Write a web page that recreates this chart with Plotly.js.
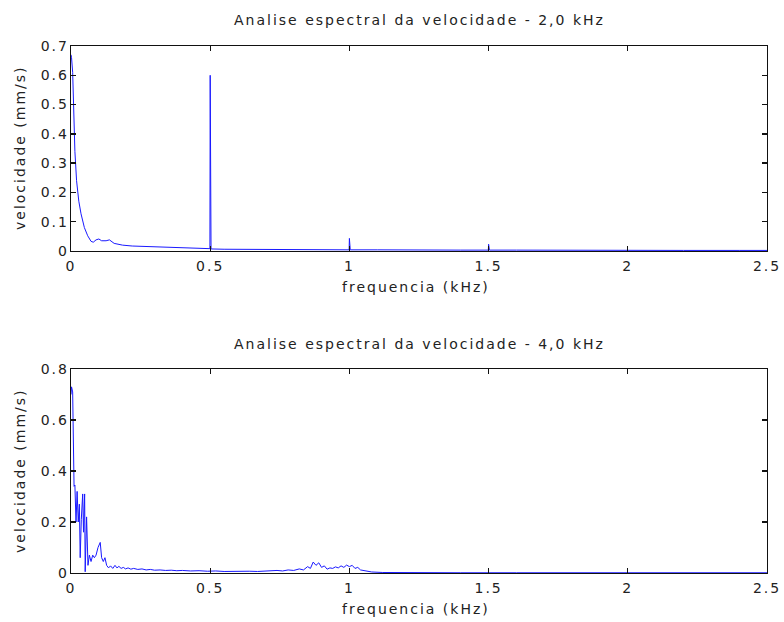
<!DOCTYPE html>
<html>
<head>
<meta charset="utf-8">
<script src="https://cdn.plot.ly/plotly-3.0.1.min.js"></script>
<style>
  html, body { margin: 0; padding: 0; background: #fff; }
  #plot { width: 784px; height: 622px; }
  /* wide, spaced lettering for all chart text */
  #plot svg text { letter-spacing: 2px; }
</style>
</head>
<body>
<div id="plot"></div>
<script>
// Espectro de velocidade - excitação de 2,0 kHz
const freq2k = [0, 0.002, 0.006, 0.010, 0.014, 0.020, 0.028, 0.036, 0.048, 0.060,
  0.072, 0.080, 0.090, 0.100, 0.110, 0.126, 0.138, 0.155, 0.185, 0.220,
  0.250, 0.300, 0.350, 0.400, 0.450, 0.498, 0.499, 0.500, 0.501, 0.503,
  0.550, 0.600, 0.700, 0.800, 0.900, 0.998, 0.999, 1.000, 1.001, 1.003,
  1.100, 1.200, 1.300, 1.400, 1.498, 1.499, 1.500, 1.501, 1.503, 1.600,
  1.800, 2.000, 2.200, 2.400, 2.500];
const vel2k = [0.67, 0.66, 0.61, 0.46, 0.34, 0.24, 0.17, 0.127, 0.08, 0.052,
  0.033, 0.030, 0.038, 0.041, 0.035, 0.035, 0.038, 0.026, 0.020, 0.017,
  0.016, 0.013, 0.011, 0.010, 0.009, 0.008, 0.008, 0.60, 0.008, 0.007,
  0.006, 0.006, 0.005, 0.005, 0.004, 0.004, 0.004, 0.043, 0.004, 0.004,
  0.004, 0.003, 0.003, 0.003, 0.003, 0.003, 0.023, 0.003, 0.003, 0.003,
  0.002, 0.002, 0.002, 0.002, 0.002];

// Espectro de velocidade - excitação de 4,0 kHz
const freq4k = [0, 0.002, 0.006, 0.008, 0.011, 0.014, 0.018, 0.022, 0.026, 0.030,
  0.033, 0.037, 0.042, 0.045, 0.049, 0.051, 0.056, 0.061, 0.066, 0.072,
  0.078, 0.084, 0.090, 0.097, 0.105, 0.110, 0.116, 0.122, 0.128, 0.135,
  0.142, 0.150, 0.158, 0.165, 0.172, 0.180, 0.188, 0.196, 0.205, 0.215,
  0.225, 0.24, 0.255, 0.27, 0.285, 0.30, 0.32, 0.34, 0.36, 0.38,
  0.40, 0.43, 0.46, 0.49, 0.52, 0.55, 0.58, 0.61, 0.64, 0.67,
  0.70, 0.72, 0.74, 0.76, 0.78, 0.80, 0.82, 0.835, 0.85, 0.86,
  0.87, 0.88, 0.89, 0.90, 0.91, 0.92, 0.93, 0.94, 0.95, 0.96,
  0.97, 0.98, 0.99, 1.00, 1.01, 1.02, 1.03, 1.04, 1.06, 1.08,
  1.12, 1.2, 1.4, 1.6, 1.8, 2.0, 2.2, 2.5];
const vel4k = [0.70, 0.73, 0.71, 0.55, 0.34, 0.345, 0.20, 0.32, 0.20, 0.27,
  0.06, 0.21, 0.31, 0.16, 0.31, 0.005, 0.22, 0.03, 0.07, 0.045,
  0.07, 0.06, 0.07, 0.10, 0.12, 0.06, 0.045, 0.06, 0.03, 0.02,
  0.028, 0.018, 0.03, 0.02, 0.026, 0.018, 0.022, 0.016, 0.02, 0.015,
  0.018, 0.014, 0.016, 0.012, 0.014, 0.011, 0.012, 0.010, 0.011, 0.009,
  0.010, 0.008, 0.009, 0.007, 0.008, 0.006, 0.007, 0.006, 0.007, 0.006,
  0.008, 0.007, 0.010, 0.008, 0.012, 0.010, 0.016, 0.012, 0.025, 0.018,
  0.043, 0.030, 0.040, 0.022, 0.028, 0.015, 0.020, 0.018, 0.024, 0.020,
  0.028, 0.022, 0.031, 0.025, 0.030, 0.018, 0.022, 0.012, 0.008, 0.004,
  0.002, 0.001, 0.001, 0.001, 0.001, 0.001, 0.001, 0.001];

const xTicks = [0, 0.5, 1, 1.5, 2, 2.5];
const xTickText = ['0', '0.5', '1', '1.5', '2', '2.5'];
const yTicks2k = [0, 0.1, 0.2, 0.3, 0.4, 0.5, 0.6, 0.7];
const yTickText2k = ['0', '0.1', '0.2', '0.3', '0.4', '0.5', '0.6', '0.7'];
const yTicks4k = [0, 0.2, 0.4, 0.6, 0.8];
const yTickText4k = ['0', '0.2', '0.4', '0.6', '0.8'];

const titles = ['Analise espectral da velocidade - 2,0 kHz',
                'Analise espectral da velocidade - 4,0 kHz'];
const xLabel = 'frequencia (kHz)';
const yLabel = 'velocidade (mm/s)';

const FONT = 'DejaVu Sans, Verdana, sans-serif';
const TEXT = '#222';
const LINE = 'rgb(25,25,255)';

// plot area in pixels
const W = 784, H = 622;
const M = { l: 71, r: 17, t: 46, b: 49 };
const plotH = H - M.t - M.b;
const py = p => (H - M.b - p) / plotH;        // pixel row -> paper y
const px = p => (p - M.l) / (W - M.l - M.r);  // pixel column -> paper x

const axisCommon = {
  showline: true, linecolor: '#111', linewidth: 1.3, mirror: 'ticks',
  ticks: 'inside', ticklen: 5, tickwidth: 1.3, tickcolor: '#111',
  showgrid: false, zeroline: false,
  tickfont: { family: FONT, size: 14, color: TEXT }
};

const traces = [
  { x: freq2k, y: vel2k, xaxis: 'x', yaxis: 'y', type: 'scatter', mode: 'lines',
    line: { color: LINE, width: 1 }, hoverinfo: 'skip' },
  { x: freq4k, y: vel4k, xaxis: 'x2', yaxis: 'y2', type: 'scatter', mode: 'lines',
    line: { color: LINE, width: 1 }, hoverinfo: 'skip' }
];

const ann = (text, x, y, angle) => ({
  text, xref: 'paper', yref: 'paper', x, y, showarrow: false,
  xanchor: 'center', yanchor: 'middle', textangle: angle || 0,
  font: { family: FONT, size: 14, color: TEXT }
});

const layout = {
  width: W, height: H, margin: M,
  paper_bgcolor: '#fff', plot_bgcolor: '#fff', showlegend: false,
  xaxis: Object.assign({}, axisCommon, { domain: [0, 1], anchor: 'y', range: [0, 2.5],
    tickvals: xTicks, ticktext: xTickText, ticklabelstandoff: 2 }),
  yaxis: Object.assign({}, axisCommon, { domain: [py(251), 1], anchor: 'x', range: [0, 0.7],
    tickvals: yTicks2k, ticktext: yTickText2k, ticklabelstandoff: -2 }),
  xaxis2: Object.assign({}, axisCommon, { domain: [0, 1], anchor: 'y2', range: [0, 2.5],
    tickvals: xTicks, ticktext: xTickText, ticklabelstandoff: 2 }),
  yaxis2: Object.assign({}, axisCommon, { domain: [0, py(369)], anchor: 'x2', range: [0, 0.8],
    tickvals: yTicks4k, ticktext: yTickText4k, ticklabelstandoff: -2 }),
  annotations: [
    ann(titles[0], px(419), py(20)),
    ann(titles[1], px(419), py(344)),
    ann(xLabel, px(416), py(287)),
    ann(xLabel, px(416), py(609)),
    ann(yLabel, px(20), py(148), -90),
    ann(yLabel, px(20), py(471), -90)
  ]
};

Plotly.newPlot('plot', traces, layout, { staticPlot: true, displayModeBar: false });
</script>
</body>
</html>
